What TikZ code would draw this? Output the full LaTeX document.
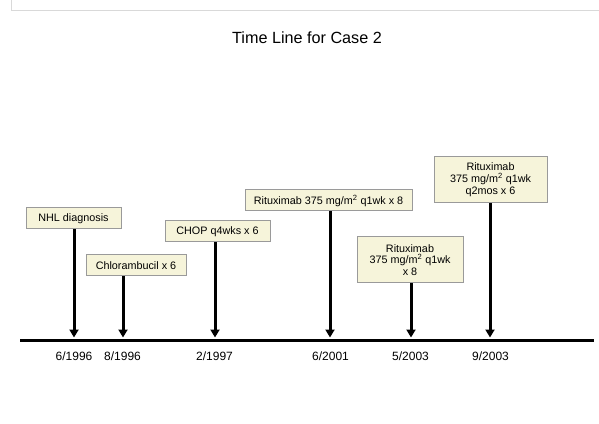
\documentclass[tikz,border=0pt]{standalone}
\usepackage{fontspec}
\setmainfont{Liberation Sans}
\usepackage{tikz}
\usetikzlibrary{arrows.meta, positioning}
\definecolor{BoxFill}{HTML}{F6F4DA}
\definecolor{BoxEdge}{HTML}{9A9A9A}
\definecolor{FrameGrey}{HTML}{D9D9D9}
\tikzset{
  eventbox/.style={rectangle, draw=BoxEdge, line width=1pt, fill=BoxFill, align=center, inner xsep=4pt, inner ysep=4pt, minimum height=21pt, font=\fontsize{10.8}{11.8}\selectfont},
  stemarrow/.style={-{Triangle[width=9pt, length=8pt]}, line width=3pt, black},
  axisline/.style={line width=3.2pt, black},
  datelabel/.style={font=\fontsize{12}{14}\selectfont, inner sep=0pt},
  titletext/.style={font=\fontsize{16.2}{18}\selectfont, inner sep=0pt},
  framerule/.style={FrameGrey, line width=1pt}
}
\begin{document}
\begin{tikzpicture}[x=1pt, y=1pt]
  \useasboundingbox (0,0) rectangle (599,423);
  \draw[framerule] (11.5,423) -- (11.5,412.5) -- (599,412.5);

  \node[titletext] (title) at (307,385) {Time Line for Case 2};

  % time axis and the event dates
  \coordinate (axisL) at (20,82.5);
  \coordinate (axisR) at (594,82.5);
  \draw[axisline] (axisL) -- (axisR);

  \coordinate (t1) at (74,85.5);
  \coordinate (t2) at (123,85.5);
  \coordinate (t3) at (215,85.5);
  \coordinate (t4) at (330,85.5);
  \coordinate (t5) at (411,85.5);
  \coordinate (t6) at (490,85.5);

  \node[datelabel] (d1) at (74,67) {6/1996};
  \node[datelabel] (d2) at (122.5,67) {8/1996};
  \node[datelabel] (d3) at (214.5,67) {2/1997};
  \node[datelabel] (d4) at (330.5,67) {6/2001};
  \node[datelabel] (d5) at (410.5,67) {5/2003};
  \node[datelabel] (d6) at (490.5,67) {9/2003};

  % treatment boxes
  \node[eventbox, minimum width=95pt] (nhl) at (73.5,204.5) {NHL diagnosis};
  \node[eventbox, minimum width=100pt] (chloram) at (136,157.5) {Chlorambucil x 6};
  \node[eventbox, minimum width=105pt] (chop) at (217.5,191.5) {CHOP q4wks x 6};
  \node[eventbox, minimum width=167pt] (ritA) at (328.5,222.5) {Rituximab 375 mg/m\textsuperscript{2} q1wk x 8};
  \node[eventbox, minimum width=106pt, minimum height=46pt] (ritB) at (410,163) {Rituximab\\375 mg/m\textsuperscript{2} q1wk\\x 8};
  \node[eventbox, minimum width=113pt, minimum height=46pt] (ritC) at (490.5,243) {Rituximab\\375 mg/m\textsuperscript{2} q1wk\\q2mos x 6};

  \draw[stemarrow] (nhl.south -| t1) -- (t1);
  \draw[stemarrow] (chloram.south -| t2) -- (t2);
  \draw[stemarrow] (chop.south -| t3) -- (t3);
  \draw[stemarrow] (ritA.south -| t4) -- (t4);
  \draw[stemarrow] (ritB.south -| t5) -- (t5);
  \draw[stemarrow] (ritC.south -| t6) -- (t6);
\end{tikzpicture}
\end{document}
